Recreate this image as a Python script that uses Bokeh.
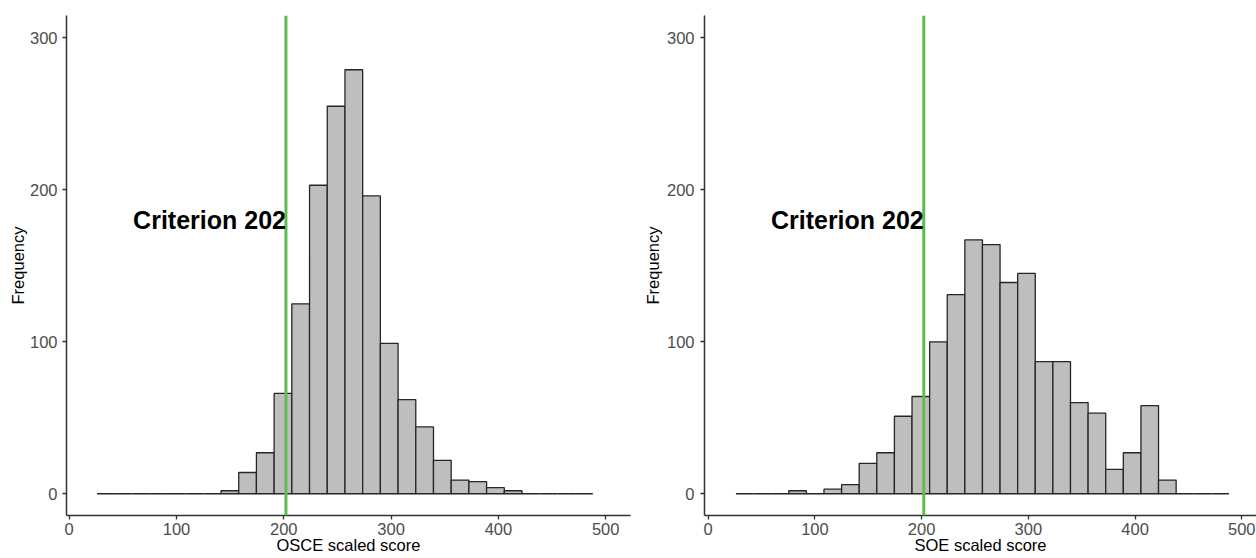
from bokeh.plotting import figure
from bokeh.models import FixedTicker, Span, Label, Range1d
from bokeh.layouts import row
from bokeh.embed import file_html
from bokeh.resources import INLINE

# ---- data ----
bin_edges = [26.0, 42.5, 59.0, 75.5, 92.0, 108.5, 125.0, 141.5, 158.0, 174.5,
             191.0, 207.5, 224.0, 240.5, 257.0, 273.5, 290.0, 306.5, 323.0, 339.5,
             356.0, 372.5, 389.0, 405.5, 422.0, 438.5, 455.0, 471.5, 488.0]
osce_counts = [0, 0, 0, 0, 0, 0, 0, 2, 14, 27, 66, 125, 203, 255, 279, 196,
               99, 62, 44, 22, 9, 8, 4, 2, 0, 0, 0, 0]
soe_counts = [0, 0, 0, 2, 0, 3, 6, 20, 27, 51, 64, 100, 131, 167, 164, 139,
              145, 87, 87, 60, 53, 16, 27, 58, 9, 0, 0, 0]
criterion = 202
criterion_text = "Criterion 202"
x_ticks = [0, 100, 200, 300, 400, 500]
y_ticks = [0, 100, 200, 300]
x_titles = ["OSCE scaled score", "SOE scaled score"]
y_title = "Frequency"

FONT = "Liberation Sans"


def make_panel(counts, xtitle, width, bl, br, xr, tick_standoff, ylab_standoff):
    p = figure(width=width, height=558,
               x_range=Range1d(*xr), y_range=Range1d(-14.3, 314.7),
               output_backend="svg", toolbar_location=None,
               min_border_left=bl, min_border_right=br,
               min_border_top=15, min_border_bottom=43)
    p.outline_line_color = None
    p.xgrid.visible = False
    p.ygrid.visible = False
    p.background_fill_color = "white"
    p.border_fill_color = "white"

    p.quad(left=bin_edges[:-1], right=bin_edges[1:], bottom=0, top=counts,
           fill_color="#BEBEBE", line_color="#262626", line_width=1.3)

    p.add_layout(Span(location=criterion, dimension="height",
                      line_color="#5DBE4E", line_width=3))
    p.add_layout(Label(x=criterion, y=180.3, text=criterion_text,
                       text_align="right", text_baseline="alphabetic",
                       text_font=FONT, text_font_style="bold",
                       text_font_size="25px", text_color="black"))

    for ax in (p.xaxis[0], p.yaxis[0]):
        ax.axis_line_color = "#333333"
        ax.axis_line_width = 1.5
        ax.major_tick_line_color = "#333333"
        ax.major_tick_line_width = 1.3
        ax.major_tick_out = 4
        ax.major_tick_in = 0
        ax.minor_tick_line_color = None
        ax.major_label_text_font = FONT
        ax.major_label_text_font_size = "16.5px"
        ax.major_label_text_color = "#4D4D4D"
        ax.axis_label_text_font = FONT
        ax.axis_label_text_font_size = "16.5px"
        ax.axis_label_text_font_style = "normal"
        ax.axis_label_text_color = "black"

    p.xaxis[0].ticker = FixedTicker(ticks=x_ticks)
    p.yaxis[0].ticker = FixedTicker(ticks=y_ticks)
    p.xaxis[0].major_label_standoff = 3
    p.xaxis[0].axis_label = xtitle
    p.xaxis[0].axis_label_standoff = -2
    p.yaxis[0].major_label_standoff = tick_standoff
    p.yaxis[0].axis_label = y_title
    p.yaxis[0].axis_label_standoff = ylab_standoff
    return p


p1 = make_panel(osce_counts, x_titles[0], 640, 66, 10, (-2.5, 523.1), 5, 0)
p2 = make_panel(soe_counts, x_titles[1], 616, 63, 0, (-3.46, 513.8), 6, 2)

layout = row(p1, p2)
open("out.html", "w").write(file_html(layout, INLINE))
